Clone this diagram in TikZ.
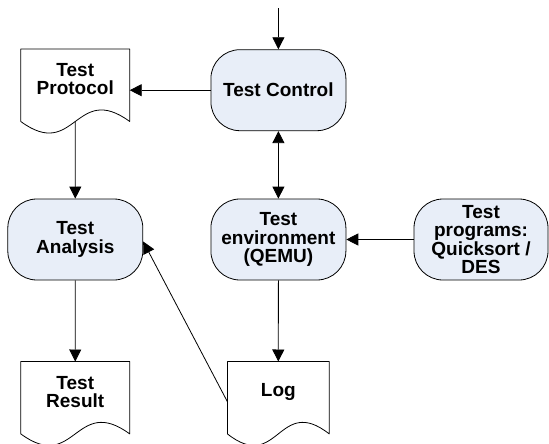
\documentclass[tikz,border=0pt]{standalone}
\usepackage{fontspec}
\setmainfont{Liberation Sans}
\usetikzlibrary{arrows.meta,calc}
\definecolor{boxfill}{RGB}{232,238,248}
\newcommand\docpath[1]{\draw[docline] ($(#1.south west)+(0,12)$) -- (#1.north west) -- (#1.north east) -- ($(#1.south east)+(0,12)$) .. controls ($(#1.south)+(0,-28)$) and ($(#1.south)+(0,52)$) .. cycle;}
\begin{document}
\begin{tikzpicture}[x=1pt,y=-1pt,
  txt/.style={font=\fontsize{19}{18.2}\selectfont\bfseries, align=center},
  proc/.style={txt, draw=black, fill=boxfill, rounded corners=29pt, minimum width=135pt, minimum height=81pt, inner sep=2pt, line width=0.8pt},
  doctext/.style={txt, minimum height=60pt, inner sep=0pt},
  docline/.style={draw=black, line width=0.8pt, line join=round},
  tip/.tip={Triangle[length=12pt,width=12pt]},
  arr/.style={-tip, line width=0.8pt},
  darr/.style={tip-tip, line width=0.8pt}
  ]
\useasboundingbox (0,0) rectangle (549,444);
\node[proc] (ctrl) at (278.4,90.2) {Test Control};
\node[proc] (an) at (75.3,239.5) {Test\\Analysis};
\node[proc] (env) at (278.4,239.5) {Test\\environment\\(QEMU)};
\node[proc, minimum width=134pt] (prog) at (481,239.5) {Test\\programs:\\Quicksort /\\DES};
\node[doctext, minimum width=108.5pt] (prot) at (75.25,79.3) {Test\\Protocol};
\node[doctext, minimum width=108.5pt] (res) at (75.25,391.7) {Test\\Result};
\node[doctext, minimum width=101.4pt] (log) at (278.3,391.7) {Log};
\docpath{prot}
\docpath{res}
\docpath{log}
\coordinate (in) at (278.4,8.3);
\draw[arr] (in) -- (ctrl.north);
\draw[arr] (ctrl.west) -- (ctrl.west -| prot.east);
\draw[arr] ($(prot.south)+(0,12)$) -- (an.north);
\draw[darr] (ctrl.south) -- (env.north);
\draw[arr] (prog.west) -- (env.east);
\draw[arr] (env.south) -- (log.north);
\draw[arr] (an.south) -- (res.north);
\draw[arr] ($(log.west)+(0,10)$) -- ($(an.east)+(0,2)$);
\end{tikzpicture}
\end{document}
